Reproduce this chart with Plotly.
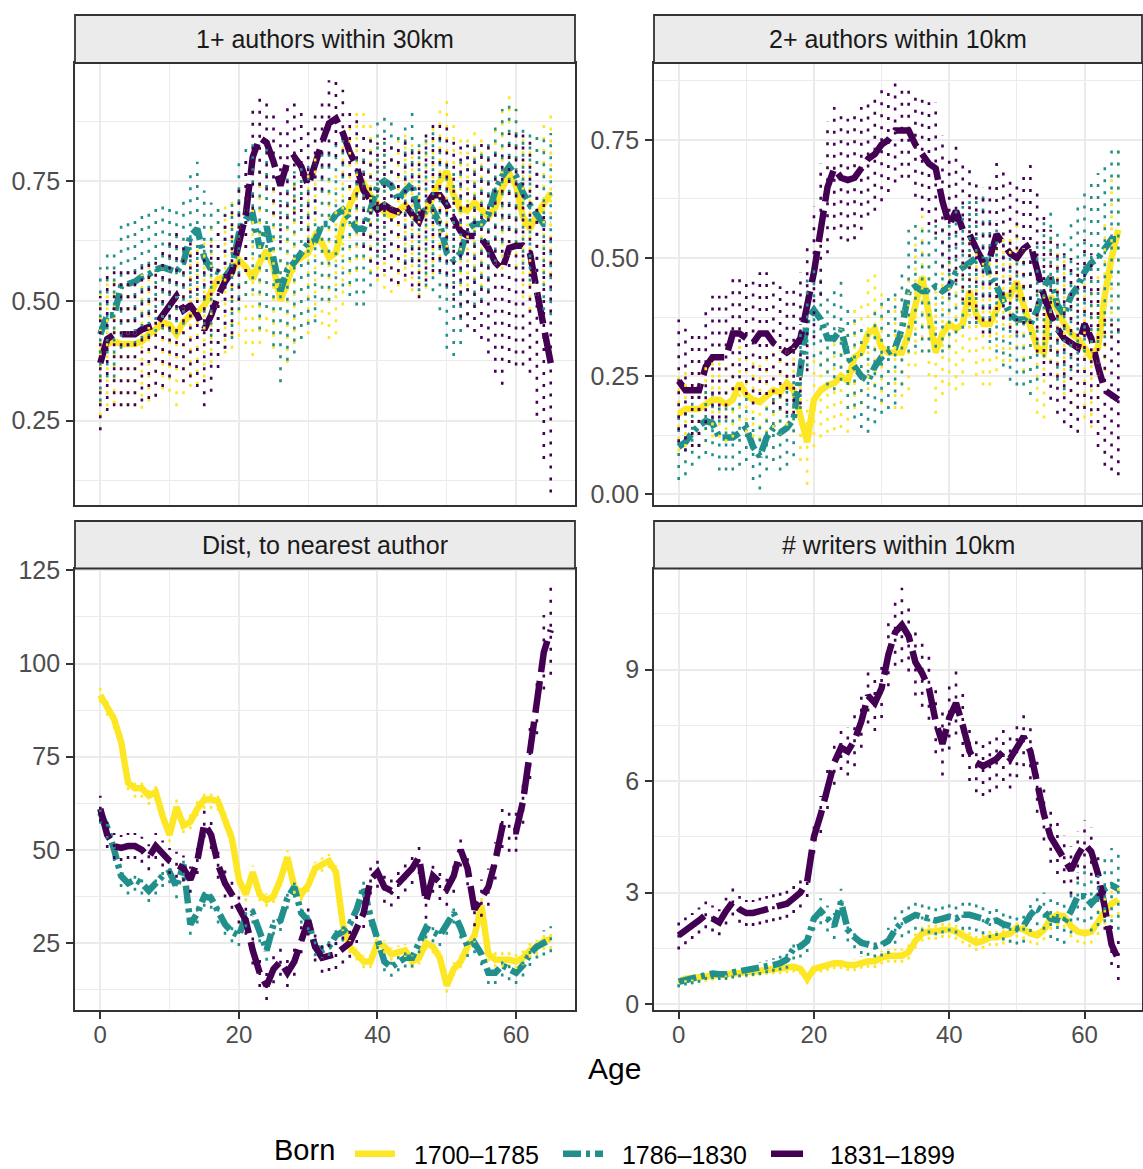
import plotly.graph_objects as go

AGES = list(range(66))
BORN = ["1700–1785", "1786–1830", "1831–1899"]
FACETS = ["1+ authors within 30km", "2+ authors within 10km",
          "Dist, to nearest author", "# writers within 10km"]

# ---------- 1+ authors within 30km ----------
within30_1700 = [0.39, 0.41, 0.415, 0.41, 0.41, 0.41, 0.415, 0.43, 0.44, 0.455,
                 0.45, 0.43, 0.455, 0.47, 0.475, 0.49, 0.52, 0.545, 0.55, 0.56,
                 0.585, 0.57, 0.545, 0.58, 0.605, 0.57, 0.50, 0.54, 0.58, 0.59,
                 0.60, 0.635, 0.62, 0.59, 0.60, 0.66, 0.70, 0.73, 0.745, 0.72,
                 0.70, 0.685, 0.676, 0.69, 0.70, 0.68, 0.67, 0.685, 0.715, 0.75,
                 0.77, 0.72, 0.69, 0.69, 0.705, 0.69, 0.675, 0.695, 0.735, 0.765,
                 0.74, 0.675, 0.65, 0.68, 0.705, 0.725]
within30_1786 = [0.43, 0.47, 0.47, 0.53, 0.535, 0.54, 0.55, 0.555, 0.565, 0.57,
                 0.565, 0.56, 0.58, 0.635, 0.65, 0.59, 0.565, 0.56, 0.55, 0.57,
                 0.64, 0.67, 0.68, 0.61, 0.655, 0.585, 0.52, 0.565, 0.58, 0.60,
                 0.62, 0.625, 0.66, 0.66, 0.68, 0.69, 0.67, 0.65, 0.65, 0.69,
                 0.74, 0.75, 0.74, 0.71, 0.73, 0.745, 0.68, 0.69, 0.69, 0.66,
                 0.60, 0.585, 0.60, 0.65, 0.66, 0.66, 0.68, 0.73, 0.76, 0.78,
                 0.76, 0.725, 0.70, 0.68, 0.66, 0.66]
within30_1831 = [0.37, 0.42, 0.43, 0.43, 0.43, 0.43, 0.44, 0.445, 0.45, 0.47,
                 0.49, 0.51, 0.48, 0.49, 0.47, 0.44, 0.47, 0.51, 0.54, 0.56,
                 0.62, 0.68, 0.80, 0.84, 0.83, 0.79, 0.74, 0.79, 0.80, 0.78,
                 0.74, 0.79, 0.83, 0.87, 0.88, 0.85, 0.81, 0.78, 0.73, 0.71,
                 0.69, 0.70, 0.69, 0.685, 0.70, 0.68, 0.665, 0.70, 0.72, 0.72,
                 0.70, 0.67, 0.645, 0.635, 0.635, 0.63, 0.61, 0.58, 0.565, 0.61,
                 0.615, 0.615, 0.60, 0.52, 0.44, 0.37]
within30_1700_err = [0.13, 0.13, 0.13, 0.13, 0.13, 0.13, 0.14, 0.14, 0.14, 0.14,
                     0.14, 0.15, 0.15, 0.15, 0.15, 0.15, 0.15, 0.16, 0.16, 0.16,
                     0.16, 0.16, 0.16, 0.17, 0.17, 0.17, 0.17, 0.17, 0.17, 0.17,
                     0.17, 0.17, 0.17, 0.17, 0.17, 0.17, 0.17, 0.17, 0.16, 0.16,
                     0.16, 0.16, 0.16, 0.16, 0.16, 0.16, 0.16, 0.16, 0.16, 0.16,
                     0.16, 0.16, 0.16, 0.16, 0.16, 0.16, 0.16, 0.17, 0.17, 0.17,
                     0.17, 0.17, 0.17, 0.17, 0.17, 0.17]
within30_1786_err = [0.14, 0.13, 0.13, 0.13, 0.13, 0.13, 0.13, 0.13, 0.13, 0.13,
                     0.13, 0.13, 0.13, 0.13, 0.14, 0.14, 0.14, 0.15, 0.15, 0.15,
                     0.16, 0.16, 0.16, 0.17, 0.17, 0.18, 0.19, 0.19, 0.19, 0.18,
                     0.17, 0.17, 0.16, 0.16, 0.16, 0.16, 0.16, 0.16, 0.16, 0.16,
                     0.15, 0.15, 0.15, 0.15, 0.15, 0.16, 0.16, 0.16, 0.17, 0.18,
                     0.20, 0.20, 0.19, 0.18, 0.17, 0.16, 0.16, 0.15, 0.14, 0.13,
                     0.14, 0.15, 0.16, 0.17, 0.18, 0.19]
within30_1831_err = [0.14, 0.15, 0.15, 0.15, 0.15, 0.15, 0.15, 0.15, 0.15, 0.15,
                     0.15, 0.15, 0.15, 0.15, 0.15, 0.16, 0.16, 0.15, 0.14, 0.13,
                     0.12, 0.12, 0.11, 0.10, 0.10, 0.11, 0.12, 0.12, 0.12, 0.12,
                     0.12, 0.11, 0.10, 0.09, 0.08, 0.09, 0.10, 0.11, 0.12, 0.13,
                     0.14, 0.14, 0.15, 0.15, 0.15, 0.15, 0.16, 0.16, 0.16, 0.16,
                     0.17, 0.17, 0.18, 0.19, 0.20, 0.21, 0.22, 0.23, 0.24, 0.24,
                     0.25, 0.25, 0.25, 0.26, 0.27, 0.27]

# ---------- 2+ authors within 10km ----------
within10_1700 = [0.17, 0.18, 0.18, 0.18, 0.19, 0.20, 0.20, 0.19, 0.20, 0.235,
                 0.21, 0.20, 0.195, 0.21, 0.22, 0.215, 0.235, 0.22, 0.16, 0.11,
                 0.20, 0.22, 0.23, 0.235, 0.25, 0.24, 0.29, 0.30, 0.34, 0.35,
                 0.31, 0.30, 0.30, 0.30, 0.34, 0.40, 0.46, 0.38, 0.30, 0.34,
                 0.36, 0.35, 0.36, 0.43, 0.38, 0.36, 0.36, 0.39, 0.42, 0.42,
                 0.45, 0.40, 0.35, 0.31, 0.30, 0.42, 0.39, 0.36, 0.34, 0.33,
                 0.31, 0.29, 0.31, 0.42, 0.50, 0.56]
within10_1786 = [0.10, 0.11, 0.13, 0.145, 0.155, 0.15, 0.12, 0.12, 0.12, 0.13,
                 0.14, 0.10, 0.08, 0.12, 0.14, 0.13, 0.14, 0.16, 0.27, 0.37,
                 0.39, 0.37, 0.33, 0.33, 0.35, 0.29, 0.27, 0.25, 0.24, 0.27,
                 0.29, 0.30, 0.31, 0.35, 0.43, 0.44, 0.43, 0.43, 0.44, 0.43,
                 0.44, 0.47, 0.48, 0.49, 0.50, 0.51, 0.46, 0.44, 0.41, 0.38,
                 0.37, 0.37, 0.36, 0.39, 0.44, 0.46, 0.40, 0.38, 0.42, 0.44,
                 0.47, 0.49, 0.50, 0.52, 0.54, 0.54]
within10_1831 = [0.24, 0.22, 0.22, 0.22, 0.27, 0.29, 0.29, 0.29, 0.34, 0.34,
                 0.33, 0.32, 0.34, 0.34, 0.32, 0.31, 0.30, 0.31, 0.33, 0.40,
                 0.47, 0.56, 0.65, 0.69, 0.67, 0.665, 0.67, 0.69, 0.71, 0.72,
                 0.74, 0.75, 0.77, 0.77, 0.77, 0.74, 0.72, 0.70, 0.69, 0.62,
                 0.57, 0.60, 0.56, 0.55, 0.52, 0.49, 0.50, 0.55, 0.53, 0.51,
                 0.50, 0.52, 0.53, 0.47, 0.42, 0.38, 0.35, 0.33, 0.32, 0.31,
                 0.36, 0.33, 0.27, 0.22, 0.21, 0.20]
within10_1700_err = [0.08, 0.08, 0.08, 0.08, 0.08, 0.08, 0.08, 0.08, 0.08, 0.08,
                     0.08, 0.08, 0.08, 0.08, 0.08, 0.09, 0.09, 0.09, 0.09, 0.09,
                     0.10, 0.10, 0.10, 0.10, 0.11, 0.11, 0.11, 0.11, 0.12, 0.12,
                     0.12, 0.12, 0.12, 0.12, 0.12, 0.13, 0.13, 0.13, 0.13, 0.13,
                     0.13, 0.13, 0.13, 0.13, 0.13, 0.13, 0.13, 0.13, 0.14, 0.14,
                     0.14, 0.14, 0.14, 0.14, 0.14, 0.14, 0.14, 0.15, 0.15, 0.15,
                     0.15, 0.15, 0.16, 0.16, 0.17, 0.17]
within10_1786_err = [0.07, 0.07, 0.07, 0.07, 0.07, 0.07, 0.07, 0.07, 0.07, 0.07,
                     0.07, 0.07, 0.07, 0.07, 0.07, 0.08, 0.08, 0.08, 0.09, 0.10,
                     0.10, 0.10, 0.10, 0.11, 0.11, 0.11, 0.11, 0.11, 0.11, 0.12,
                     0.12, 0.12, 0.12, 0.12, 0.13, 0.13, 0.13, 0.13, 0.13, 0.13,
                     0.13, 0.13, 0.13, 0.13, 0.14, 0.14, 0.14, 0.14, 0.14, 0.14,
                     0.14, 0.14, 0.15, 0.15, 0.15, 0.15, 0.16, 0.16, 0.16, 0.17,
                     0.17, 0.17, 0.18, 0.19, 0.20, 0.20]
within10_1831_err = [0.13, 0.13, 0.12, 0.12, 0.12, 0.13, 0.13, 0.13, 0.12, 0.12,
                     0.12, 0.13, 0.13, 0.13, 0.13, 0.13, 0.13, 0.14, 0.14, 0.14,
                     0.14, 0.14, 0.14, 0.13, 0.13, 0.13, 0.13, 0.13, 0.12, 0.12,
                     0.12, 0.11, 0.11, 0.10, 0.10, 0.11, 0.12, 0.13, 0.14, 0.14,
                     0.15, 0.15, 0.15, 0.15, 0.15, 0.15, 0.16, 0.16, 0.16, 0.16,
                     0.16, 0.16, 0.17, 0.17, 0.17, 0.18, 0.18, 0.18, 0.18, 0.18,
                     0.18, 0.18, 0.17, 0.16, 0.16, 0.16]

# ---------- Dist, to nearest author ----------
dist_1700 = [91.5, 88.5, 85, 79, 68, 66.5, 66.5, 64.5, 65.5, 59,
             54, 61.5, 56.5, 57.5, 61, 63.5, 63.5, 63, 58, 53,
             42, 38, 44, 38, 36.5, 37.5, 42, 48, 40, 38,
             40.5, 45, 46, 47, 44, 30, 24, 22, 20, 20,
             25, 24, 22, 22.5, 23, 20, 21, 25, 24, 21,
             13.5, 18, 20, 24, 27, 35, 22, 20.5, 20.5, 20.5,
             20, 21, 23, 24, 25.5, 26]
dist_1786 = [60, 56, 50, 43, 41, 42, 41, 39, 41, 43,
             44, 40, 46, 30, 33, 37.5, 37, 33, 30, 28,
             27, 32, 33, 28, 23, 30, 31, 37, 40, 33,
             31, 24, 23, 24, 27, 28, 30, 34, 40, 32,
             26, 20, 18.5, 20, 21, 21, 25, 29, 28, 27,
             30, 33, 29, 24, 25, 22, 17, 17, 19, 18,
             17, 19, 22, 24, 25, 26]
dist_1831 = [61, 54, 51, 50.5, 51, 51, 50, 48, 51, 49,
             47, 46, 45, 42, 47, 57, 54, 46, 41, 38,
             34, 31, 23, 17, 13.5, 18, 20, 17, 20, 26,
             31, 24, 21, 21.5, 22, 23.5, 25, 29, 33, 42,
             44, 40, 39, 41, 43, 45, 48, 36, 43, 41,
             39.5, 43, 50, 45, 34, 37, 40, 47, 56, 55,
             55, 63, 76, 89, 103, 109]
dist_1700_err = [2.0, 2.5, 2.5, 2.0, 2.0, 2.5, 2.5, 2.5, 2.5, 2.0,
                 2.0, 2.0, 2.0, 2.0, 2.0, 2.5, 2.5, 2.5, 2.0, 2.0,
                 1.8, 1.8, 1.8, 1.8, 1.8, 1.8, 1.9, 1.9, 1.8, 1.8,
                 1.8, 1.8, 1.9, 1.9, 1.8, 1.8, 1.8, 1.7, 1.7, 1.7,
                 1.8, 1.8, 1.8, 1.8, 1.8, 1.8, 1.8, 1.8, 1.8, 1.8,
                 1.8, 1.8, 1.8, 1.8, 1.9, 2.0, 2.0, 2.0, 2.0, 2.0,
                 2.0, 2.0, 2.0, 2.2, 2.4, 2.6]
dist_1786_err = [3.0, 3.0, 3.0, 3.0, 3.0, 3.0, 3.0, 3.0, 3.0, 3.0,
                 3.0, 3.0, 3.0, 2.8, 2.8, 2.8, 2.8, 2.8, 2.8, 2.8,
                 2.8, 2.8, 2.8, 2.8, 2.8, 2.8, 2.8, 2.8, 2.8, 2.8,
                 2.6, 2.6, 2.6, 2.6, 2.6, 2.6, 2.6, 2.6, 2.6, 2.6,
                 2.6, 2.6, 2.6, 2.6, 2.6, 2.6, 2.8, 2.8, 2.8, 2.8,
                 2.8, 2.8, 2.8, 2.8, 2.8, 3.0, 3.0, 3.0, 3.0, 3.0,
                 3.0, 3.0, 3.2, 3.2, 3.4, 3.5]
dist_1831_err = [3.5, 3.5, 3.5, 3.5, 3.5, 3.5, 3.5, 3.5, 3.5, 3.5,
                 3.5, 3.5, 3.5, 3.5, 3.5, 3.8, 3.8, 3.8, 3.8, 3.8,
                 3.8, 3.8, 3.8, 3.8, 3.8, 3.8, 3.8, 3.8, 3.8, 3.8,
                 4.0, 4.0, 4.0, 4.0, 4.0, 4.0, 4.0, 4.0, 4.0, 4.0,
                 4.2, 4.2, 4.2, 4.2, 4.2, 4.2, 4.5, 4.5, 4.5, 4.5,
                 4.5, 4.5, 4.5, 4.5, 4.5, 5.0, 5.0, 5.0, 5.5, 5.5,
                 5.5, 6.0, 7.0, 8.0, 10.0, 12.0]

# ---------- # writers within 10km ----------
writers_1700 = [0.6, 0.68, 0.7, 0.72, 0.72, 0.75, 0.78, 0.82, 0.82, 0.85,
                0.85, 0.88, 0.9, 0.93, 0.95, 0.95, 0.98, 1.0, 0.95, 0.68,
                0.95, 1.0, 1.05, 1.1, 1.1, 1.05, 1.05, 1.12, 1.15, 1.15,
                1.25, 1.3, 1.3, 1.3, 1.4, 1.7, 1.9, 1.95, 1.95, 2.0,
                2.0, 1.95, 1.85, 1.75, 1.65, 1.7, 1.8, 1.8, 1.85, 1.9,
                2.05, 2.0, 1.9, 1.85, 2.0, 2.3, 2.4, 2.35, 2.1, 1.95,
                1.9, 1.95, 2.2, 2.5, 2.7, 2.8]
writers_1786 = [0.6, 0.65, 0.68, 0.72, 0.8, 0.82, 0.8, 0.8, 0.85, 0.88,
                0.9, 0.92, 0.95, 1.0, 1.05, 1.1, 1.2, 1.5, 1.55, 1.7,
                2.3, 2.5, 2.3, 2.1, 2.75, 2.0, 1.8, 1.65, 1.6, 1.55,
                1.6, 1.7, 2.0, 2.2, 2.3, 2.4, 2.35, 2.3, 2.25, 2.3,
                2.35, 2.3, 2.4, 2.4, 2.35, 2.3, 2.2, 2.25, 2.15, 2.1,
                2.05, 2.1, 2.4, 2.6, 2.5, 2.3, 2.25, 2.2, 2.5, 2.9,
                2.9, 2.7, 2.9, 3.1, 3.2, 3.1]
writers_1831 = [1.85, 1.97, 2.1, 2.25, 2.4, 2.3, 2.2, 2.5, 2.75, 2.55,
                2.45, 2.45, 2.5, 2.55, 2.6, 2.65, 2.7, 2.85, 3.0, 3.3,
                4.5, 5.1, 5.8, 6.5, 6.9, 6.8, 7.1, 7.6, 8.3, 8.1,
                8.5, 9.4, 10.0, 10.2, 9.9, 9.2, 8.9, 8.5, 7.6, 7.0,
                7.7, 8.1, 7.5, 6.8, 6.5, 6.4, 6.5, 6.6, 6.8, 6.6,
                6.9, 7.2, 6.8, 5.9, 5.1, 4.5, 4.2, 3.9, 3.6, 4.0,
                4.3, 4.1, 3.5, 2.6, 1.6, 1.2]
writers_1700_err = [0.12, 0.12, 0.12, 0.12, 0.12, 0.12, 0.13, 0.13, 0.13, 0.13,
                    0.14, 0.14, 0.14, 0.14, 0.15, 0.15, 0.15, 0.15, 0.15, 0.15,
                    0.15, 0.15, 0.16, 0.16, 0.16, 0.16, 0.17, 0.17, 0.17, 0.18,
                    0.18, 0.18, 0.19, 0.19, 0.20, 0.20, 0.22, 0.22, 0.22, 0.22,
                    0.22, 0.22, 0.22, 0.22, 0.22, 0.22, 0.24, 0.24, 0.25, 0.25,
                    0.26, 0.26, 0.27, 0.27, 0.28, 0.30, 0.30, 0.30, 0.30, 0.30,
                    0.30, 0.32, 0.34, 0.36, 0.38, 0.40]
writers_1786_err = [0.15, 0.15, 0.15, 0.15, 0.15, 0.15, 0.15, 0.15, 0.16, 0.16,
                    0.16, 0.16, 0.17, 0.17, 0.18, 0.20, 0.25, 0.30, 0.30, 0.30,
                    0.32, 0.35, 0.35, 0.35, 0.35, 0.32, 0.30, 0.30, 0.30, 0.30,
                    0.32, 0.35, 0.38, 0.40, 0.40, 0.40, 0.40, 0.40, 0.40, 0.40,
                    0.40, 0.40, 0.40, 0.40, 0.40, 0.42, 0.42, 0.42, 0.44, 0.45,
                    0.45, 0.45, 0.46, 0.48, 0.50, 0.52, 0.55, 0.58, 0.60, 0.65,
                    0.70, 0.75, 0.80, 0.90, 1.00, 1.10]
writers_1831_err = [0.38, 0.36, 0.35, 0.35, 0.36, 0.35, 0.35, 0.36, 0.37, 0.36,
                    0.35, 0.35, 0.36, 0.36, 0.37, 0.38, 0.38, 0.40, 0.40, 0.42,
                    0.45, 0.50, 0.55, 0.60, 0.60, 0.65, 0.70, 0.70, 0.75, 0.75,
                    0.80, 0.85, 0.90, 1.00, 0.95, 0.90, 0.90, 0.85, 0.85, 0.85,
                    0.85, 0.85, 0.85, 0.80, 0.80, 0.80, 0.80, 0.80, 0.80, 0.80,
                    0.80, 0.80, 0.75, 0.75, 0.70, 0.70, 0.70, 0.65, 0.65, 0.65,
                    0.65, 0.65, 0.60, 0.60, 0.55, 0.55]

# ---------- styling ----------
COLORS = ["#FDE725", "#21908C", "#440154"]
DASHES = ["solid", "18px,5px,4px,5px", "32px,9px"]
FONT = "Liberation Sans, Arial, sans-serif"
W, H = 1143, 1169
NB = "\u00a0\u00a0"  # small gap between legend key and label

PANELS = [
    dict(title=FACETS[0], means=[within30_1700, within30_1786, within30_1831],
         errs=[within30_1700_err, within30_1786_err, within30_1831_err],
         yrange=[0.075, 0.996], dtick=0.25, tick0=0, fmt=".2f",
         px=(75, 575), py=(63, 504.5), strip=(15, 63)),
    dict(title=FACETS[1], means=[within10_1700, within10_1786, within10_1831],
         errs=[within10_1700_err, within10_1786_err, within10_1831_err],
         yrange=[-0.022, 0.913], dtick=0.25, tick0=0, fmt=".2f",
         px=(654, 1142), py=(63, 504.5), strip=(15, 63)),
    dict(title=FACETS[2], means=[dist_1700, dist_1786, dist_1831],
         errs=[dist_1700_err, dist_1786_err, dist_1831_err],
         yrange=[7.0, 125.5], dtick=25, tick0=0, fmt="d",
         px=(75, 575), py=(568.5, 1010), strip=(521, 568.5)),
    dict(title=FACETS[3], means=[writers_1700, writers_1786, writers_1831],
         errs=[writers_1700_err, writers_1786_err, writers_1831_err],
         yrange=[-0.16, 11.72], dtick=3, tick0=0, fmt="d",
         px=(654, 1142), py=(568.5, 1010), strip=(521, 568.5)),
]

fig = go.Figure()
layout = {}
shapes = []
annotations = []

for i, p in enumerate(PANELS, start=1):
    xa = "x" if i == 1 else f"x{i}"
    ya = "y" if i == 1 else f"y{i}"
    for k in range(3):
        fig.add_trace(go.Scatter(
            x=AGES, y=p["means"][k], mode="lines", name=NB + BORN[k],
            legendgroup=BORN[k], showlegend=(i == 1),
            line=dict(color=COLORS[k], width=6.5, dash=DASHES[k]),
            xaxis=xa, yaxis=ya, hoverinfo="skip"))
    for k in range(3):
        xs, ys = [], []
        for a, m, e in zip(AGES, p["means"][k], p["errs"][k]):
            xs += [a, a, None]
            ys += [m - e, m + e, None]
        fig.add_trace(go.Scatter(
            x=xs, y=ys, mode="lines", showlegend=False,
            line=dict(color=COLORS[k], width=2.6, dash="3px,9px"),
            xaxis=xa, yaxis=ya, hoverinfo="skip"))

    bottom_row = i >= 3
    xd = [p["px"][0] / W, p["px"][1] / W]
    yd = [1 - p["py"][1] / H, 1 - p["py"][0] / H]
    xkey = "xaxis" if i == 1 else f"xaxis{i}"
    ykey = "yaxis" if i == 1 else f"yaxis{i}"
    layout[xkey] = dict(
        domain=xd, anchor=ya, range=[-3.65, 68.5], automargin=False,
        tick0=0, dtick=20,
        showgrid=True, gridcolor="#EBEBEB", gridwidth=2,
        minor=dict(tick0=0, dtick=10, showgrid=True, gridcolor="#EBEBEB", gridwidth=1, ticks=""),
        zeroline=False, showline=True, mirror=True, linecolor="#333333", linewidth=1.8,
        ticks="outside" if bottom_row else "", ticklen=7, tickwidth=1.8, tickcolor="#333333",
        showticklabels=bottom_row, ticklabelstandoff=-5,
        tickfont=dict(family=FONT, size=24, color="#4D4D4D"),
    )
    layout[ykey] = dict(
        domain=yd, anchor=xa, range=p["yrange"], automargin=False,
        tick0=p["tick0"], dtick=p["dtick"], tickformat=p["fmt"],
        showgrid=True, gridcolor="#EBEBEB", gridwidth=2,
        minor=dict(tick0=p["tick0"], dtick=p["dtick"] / 2, showgrid=True,
                   gridcolor="#EBEBEB", gridwidth=1, ticks=""),
        zeroline=False, showline=True, mirror=True, linecolor="#333333", linewidth=1.8,
        ticks="outside", ticklen=7, tickwidth=1.8, tickcolor="#333333",
        tickfont=dict(family=FONT, size=25, color="#4D4D4D"),
        ticklabelstandoff=1,
    )
    # facet strip
    shapes.append(dict(type="rect", xref="paper", yref="paper",
                       x0=p["px"][0] / W, x1=p["px"][1] / W,
                       y0=1 - p["strip"][1] / H, y1=1 - p["strip"][0] / H,
                       fillcolor="#EBEBEB", line=dict(color="#333333", width=1.8),
                       layer="above"))
    annotations.append(dict(text=p["title"], xref="paper", yref="paper",
                            x=(p["px"][0] + p["px"][1]) / 2 / W,
                            y=1 - (p["strip"][0] + p["strip"][1]) / 2 / H,
                            xanchor="center", yanchor="middle", showarrow=False,
                            font=dict(family=FONT, size=25, color="#1A1A1A")))

annotations.append(dict(text="Age", xref="paper", yref="paper",
                        x=614 / W, y=1 - 1068 / H, xanchor="center", yanchor="middle",
                        showarrow=False, font=dict(family=FONT, size=30, color="#000000")))
# legend title
annotations.append(dict(text="Born", xref="paper", yref="paper",
                        x=273 / W, y=1 - 1150 / H, xanchor="left", yanchor="middle",
                        borderpad=0, showarrow=False,
                        font=dict(family=FONT, size=29, color="#000000")))

fig.update_layout(
    width=W, height=H,
    margin=dict(l=0, r=0, t=0, b=0, autoexpand=False),
    paper_bgcolor="white", plot_bgcolor="white",
    font=dict(family=FONT),
    shapes=shapes, annotations=annotations,
    showlegend=True,
    legend=dict(
        orientation="h", xref="container", yref="container",
        x=350 / W, y=15 / H, xanchor="left", yanchor="middle",
        font=dict(family=FONT, size=25, color="#000000"),
        bgcolor="rgba(0,0,0,0)", itemwidth=40,
        entrywidth=153, entrywidthmode="pixels",
    ),
    **layout,
)

fig.write_html("out.html")
